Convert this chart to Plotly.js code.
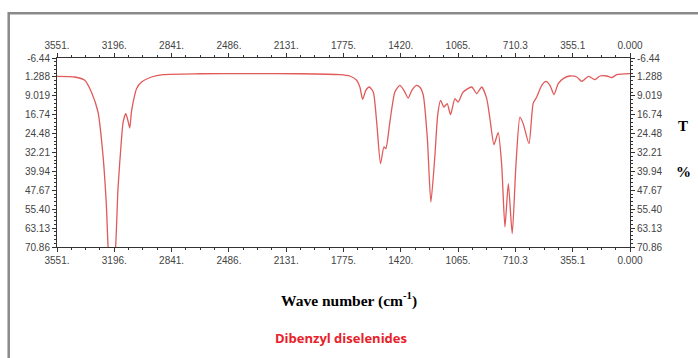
<!DOCTYPE html>
<html>
<head>
<meta charset="utf-8">
<script src="https://cdn.plot.ly/plotly-3.0.1.min.js"></script>
<style>html,body{margin:0;padding:0;background:#fff;}#chart{width:698px;height:358px;}</style>
</head>
<body>
<div id="chart"></div>
<script>
// Wavenumber (cm-1) and transmittance-scale values
const wavenumber = [3551,3441,3379,3338,3297,3266,3245,3233,3212,3189,3173,3151,3141,3125,3112,3100,3090,3079,3058,3027,2965,2894,
  2666,2356,2046,1798,1736,1694,1674,1657,1637,1616,1591,1570,1546,1525,1513,1488,1457,1426,1401,1375,1352,1323,1302,1281,1256,1234,
  1209,1192,1174,1153,1133,1112,1085,1065,1034,981,950,919,888,868,843,817,795,775,754,730,707,682,662,626,600,578,547,521,496,471,445,
  414,372,330,299,258,237,217,186,144,113,82,0];
const transmittance = [1.05,1.33,2.68,7.47,15.65,33.4,53.8,72.2,84,72.2,46.9,26.4,19.7,16.3,19.0,22.2,15.8,11.6,6.1,3.4,1.33,0.35,
  0.0,-0.06,0.0,0.35,0.92,2.68,5.42,10.45,6.77,5.42,7.47,19.7,36.75,29.96,30.6,19.7,7.47,4.73,6.77,9.92,6.77,4.73,5.54,8.8,26.4,52.5,
  33.4,17.0,10.9,13.6,12.2,16.7,10.2,11.6,7.47,5.42,8.12,5.42,10.2,18.4,29.0,24.1,37.5,62.7,44.9,65.4,37.5,17.7,20.4,28.6,12.1,9.5,4.73,3.09,4.73,8.53,4.03,
  1.99,0.92,1.33,3.09,1.04,1.74,2.39,0.92,0.92,1.58,0.35,-0.06];

const xTickVals = [3551,3195.9,2840.8,2485.7,2130.6,1775.5,1420.4,1065.3,710.3,355.1,0];
const xTickText = ["3551.","3196.","2841.","2486.","2131.","1775.","1420.","1065.","710.3","355.1","0.000"];
const yTickVals = [-6.44,1.288,9.019,16.74,24.48,32.21,39.94,47.67,55.40,63.13,70.86];
const yTickText = ["-6.44","1.288","9.019","16.74","24.48","32.21","39.94","47.67","55.40","63.13","70.86"];

const xTitle = "Wave number (cm<sup>-1</sup>)";
const sampleName = "Dibenzyl diselenides";

const tickFont = {family: "Liberation Sans, Arial, sans-serif", size: 10, color: "#444"};
const axisCommon = {
  showgrid: false, zeroline: false, showline: true, linecolor: "#333", linewidth: 1,
  ticks: "outside", ticklen: 4, tickcolor: "#333", tickfont: tickFont, tickmode: "array"
};

const xBase = Object.assign({}, axisCommon, {
  range: [3551, 0], tickvals: xTickVals, ticktext: xTickText,
  minor: {tick0: 0, dtick: 88.775, ticklen: 2, ticks: "outside", tickcolor: "#333"}
});
const yBase = Object.assign({}, axisCommon, {
  range: [70.86, -6.44], tickvals: yTickVals, ticktext: yTickText,
  minor: {tick0: -6.44, dtick: 1.546, ticklen: 2, ticks: "outside", tickcolor: "#333"}
});

const traces = [
  {x: wavenumber, y: transmittance, type: "scatter", mode: "lines",
   line: {color: "#e05a5a", width: 1.3, shape: "spline", smoothing: 0.6}, hoverinfo: "skip"},
  {x: wavenumber, y: transmittance, type: "scatter", mode: "lines", xaxis: "x2", yaxis: "y2",
   line: {color: "#e05a5a", width: 1.3, shape: "spline", smoothing: 0.6}, opacity: 0, hoverinfo: "skip"}
];

const layout = {
  width: 698, height: 358,
  margin: {l: 57, r: 68, t: 58, b: 111, pad: 0},
  paper_bgcolor: "#fff", plot_bgcolor: "#fff",
  showlegend: false,
  xaxis: Object.assign({}, xBase, {side: "bottom", anchor: "y"}),
  xaxis2: Object.assign({}, xBase, {side: "top", overlaying: "x", anchor: "y"}),
  yaxis: Object.assign({}, yBase, {side: "left", anchor: "x"}),
  yaxis2: Object.assign({}, yBase, {side: "right", overlaying: "y", anchor: "x"}),
  shapes: [
    {type: "rect", xref: "paper", yref: "paper", x0: -0.0843, x1: 1.13, y0: -0.62, y1: 1.2365,
     line: {color: "#8a8a8a", width: 2.5}, fillcolor: "rgba(0,0,0,0)", layer: "below"}
  ],
  annotations: [
    {text: xTitle, xref: "paper", yref: "paper", x: 0.51, y: -0.28, xanchor: "center", yanchor: "middle",
     showarrow: false, font: {family: "Liberation Serif, Times New Roman, serif", size: 15.5, color: "#000", weight: "bold"}},
    {text: sampleName, xref: "paper", yref: "paper", x: 0.495, y: -0.48, xanchor: "center", yanchor: "middle",
     showarrow: false, font: {family: "Open Sans, DejaVu Sans, sans-serif", size: 13, color: "#e8202a", weight: "bold"}},
    {text: "<b>T</b>", xref: "paper", yref: "paper", x: 1.0925, y: 0.64, xanchor: "center", yanchor: "middle",
     showarrow: false, font: {family: "Liberation Serif, serif", size: 15, color: "#000"}},
    {text: "<b>%</b>", xref: "paper", yref: "paper", x: 1.0925, y: 0.395, xanchor: "center", yanchor: "middle",
     showarrow: false, font: {family: "Liberation Serif, serif", size: 15, color: "#000"}}
  ]
};

Plotly.newPlot("chart", traces, layout, {staticPlot: true, displayModeBar: false});
</script>
</body>
</html>
